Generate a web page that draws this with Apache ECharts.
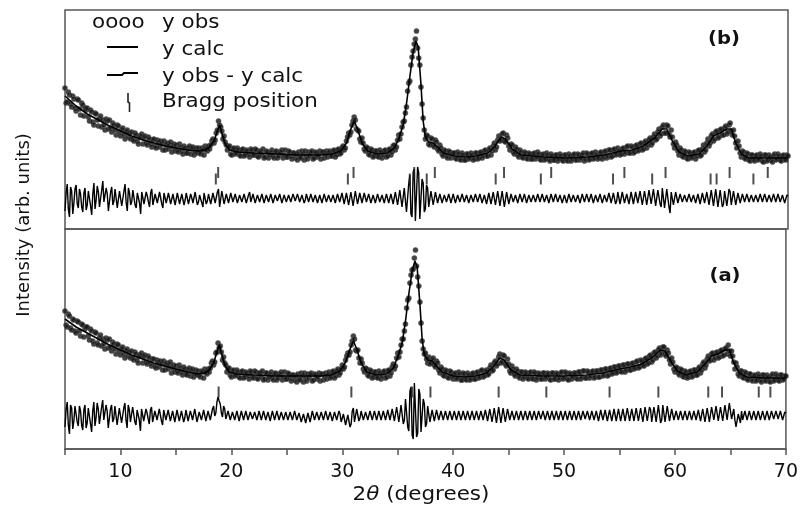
<!DOCTYPE html>
<html><head><meta charset="utf-8">
<script src="https://cdn.jsdelivr.net/npm/echarts@6/dist/echarts.min.js"></script>
<style>html,body{margin:0;padding:0;background:#fff}#chart{width:801px;height:508px}</style>
</head><body><div id="chart"></div>
<script>
// 2θ measurement grid (one value per 0.1°, 5°..70°)
const twoThetaStart = 5, twoThetaStep = 0.1;

// Panel (b): observed intensity (arb. units)
const obsB = [
141,126,127,137,134,125,122,133,130,121,
118,130,129,120,114,126,124,113,121,119,
121,112,108,119,117,107,104,116,115,109,
103,110,113,102,109,104,99,110,108,100,
109,101,97,106,104,99,94,104,103,97,
93,99,101,94,90,97,99,92,96,90,
97,90,88,96,94,88,85,93,92,95,
85,91,93,86,84,92,90,85,82,89,
90,83,81,89,87,82,88,85,79,88,
79,84,86,80,84,87,77,82,85,78,
84,79,77,85,82,78,75,83,81,76,
76,81,83,75,80,82,74,77,81,76,
81,77,75,81,79,74,83,80,78,83,
80,84,88,90,86,89,96,99,108,104,
102,98,90,93,87,84,79,82,83,75,
74,80,81,75,76,81,79,74,73,79,
80,73,74,79,78,75,72,80,79,74,
74,80,79,73,72,78,77,74,80,71,
72,78,77,71,74,76,79,73,71,77,
78,71,73,77,76,79,71,74,79,72,
72,78,77,73,70,76,76,71,75,69,
77,72,71,78,75,69,78,73,70,77,
73,76,78,70,71,77,76,72,74,78,
70,77,77,71,75,78,72,76,78,73,
73,78,79,72,74,79,80,75,76,81,
83,79,81,88,92,96,94,97,104,108,
112,109,100,99,98,90,87,91,86,80,
78,82,81,75,74,80,79,72,73,78,
78,73,72,79,77,71,74,78,79,72,
73,79,80,74,77,83,84,79,82,89,
94,90,95,102,107,108,116,122,138,146,
148,164,172,178,185,190,198,181,171,164,
142,125,111,99,90,94,93,85,84,91,
90,84,82,89,87,80,78,84,81,75,
73,79,78,73,71,78,77,71,75,76,
76,71,70,77,75,70,69,76,74,69,
69,75,75,70,71,76,74,69,70,76,
76,70,71,76,77,71,73,78,79,73,
73,79,81,74,78,83,86,79,82,89,
93,88,89,95,96,88,87,94,91,83,
79,85,84,77,75,82,80,74,72,79,
77,72,71,77,76,71,70,76,75,70,
70,75,76,70,72,77,75,70,69,74,
75,69,70,76,74,70,68,75,73,69,
69,74,74,68,70,75,73,69,68,74,
74,69,68,75,73,68,70,74,75,69,
69,75,74,69,71,74,76,68,70,76,
75,69,70,75,76,70,71,77,74,70,
71,76,77,70,72,77,78,71,73,79,
79,72,73,79,80,74,75,81,78,74,
75,80,81,75,77,82,83,76,76,83,
82,76,77,83,84,78,79,85,86,79,
80,86,88,81,84,89,91,84,86,92,
95,89,90,97,100,93,95,102,104,96,
96,104,103,95,92,99,92,85,81,87,
84,78,74,81,79,73,72,78,77,71,
70,77,76,71,72,76,77,70,73,78,
79,73,74,80,84,77,79,86,90,83,
86,93,95,88,90,97,98,91,92,99,
100,94,94,101,103,95,97,104,106,98,
94,99,93,86,81,88,83,76,72,78,
77,71,70,76,75,69,68,74,74,70,
68,73,74,69,70,75,73,68,67,74,
74,68,69,74,72,69,67,73,75,69,
70,75,73,69,68,73,74,70,69,74,
73
];
// Panel (b): difference curve (drawn with an offset below the pattern)
const diffB = [
18,36,45,20,12,42,38,15,26,40,
44,25,21,40,35,22,17,36,41,19,
24,38,40,23,14,35,46,20,29,43,
37,22,20,39,48,27,25,41,35,18,
19,37,42,24,28,40,39,21,22,38,
40,23,25,38,45,26,18,41,36,24,
27,39,41,24,21,36,37,26,15,37,
38,25,24,37,33,27,22,36,40,24,
23,35,36,26,28,37,39,25,21,36,
35,26,24,36,38,25,27,35,33,24,
22,36,37,25,26,35,34,24,29,36,
36,25,23,35,31,26,25,37,38,24,
27,34,35,26,22,36,37,25,28,35,
33,25,24,36,38,26,25,37,40,22,
21,38,36,25,27,35,34,26,25,36,
36,27,26,35,33,26,24,34,35,27,
27,35,34,26,25,34,37,27,28,35,
33,26,24,34,36,27,29,35,35,26,
26,34,35,27,28,35,33,26,24,34,
36,28,27,35,34,26,25,34,35,27,
28,34,36,27,26,35,33,28,27,35,
35,27,25,34,34,26,29,35,36,27,
26,35,33,27,27,34,36,26,25,34,
34,26,28,35,37,27,26,34,33,27,
27,34,35,26,24,35,36,27,27,36,
37,25,23,36,38,24,25,37,39,23,
22,38,37,25,27,36,35,26,24,36,
36,27,26,35,34,26,27,34,35,26,
25,35,34,27,28,34,36,26,26,35,
35,26,27,35,37,25,24,37,38,24,
23,39,40,22,21,41,42,17,18,45,
54,15,12,57,60,8,6,62,56,10,
10,50,46,17,20,44,41,22,24,38,
39,24,25,37,36,26,27,35,34,26,
26,34,35,27,28,35,33,26,25,35,
35,26,27,34,34,27,26,35,36,27,
27,34,33,26,25,34,35,27,28,35,
34,27,26,35,36,26,27,34,35,25,
24,36,37,25,26,37,38,24,23,38,
39,23,21,38,37,22,24,37,36,25,
26,35,35,27,28,34,34,26,25,35,
34,27,27,35,36,26,28,34,33,27,
27,34,35,27,26,35,34,27,29,35,
35,27,26,34,33,26,27,35,36,27,
28,35,34,27,25,34,35,26,27,34,
33,26,27,35,36,27,28,34,34,27,
26,34,35,26,28,35,33,27,27,35,
36,27,27,35,34,26,25,34,35,27,
28,35,35,26,26,34,34,27,27,36,
37,26,25,36,35,25,28,37,38,25,
25,37,36,26,27,35,35,25,26,37,
37,25,26,37,38,26,25,38,36,24,
24,38,39,24,26,39,37,25,23,40,
40,23,24,39,38,25,22,41,42,21,
23,40,38,22,16,37,36,24,26,37,
35,26,27,35,34,27,26,34,36,27,
27,35,34,27,28,34,35,26,26,35,
36,25,26,36,37,26,25,37,38,24,
22,39,41,23,24,40,38,22,21,39,
39,22,25,38,40,23,21,40,37,24,
24,38,37,24,25,36,35,26,26,35,
35,27,27,35,34,27,28,34,36,27,
27,34,35,27,26,35,34,27,28,35,
34,27,27,34,36,27,26,35,35,27,
28,35,34,27,27,34,35,26,27,34,
33
];

// Panel (a): observed intensity
const obsA = [
138,124,122,135,133,121,119,130,129,118,
116,128,127,118,113,125,124,112,120,122,
122,113,109,120,118,108,105,117,116,106,
104,111,114,103,110,105,100,111,109,101,
110,102,98,107,105,100,95,105,104,98,
94,100,102,95,91,98,100,93,97,91,
98,91,89,97,95,89,86,94,93,96,
86,92,94,87,85,93,91,86,83,90,
90,83,81,89,87,82,88,85,79,88,
79,84,86,80,84,87,76,81,84,77,
83,78,76,84,81,77,74,82,80,75,
74,79,81,73,78,80,72,75,79,74,
78,74,72,78,77,71,80,77,75,80,
77,81,86,88,84,87,96,97,106,101,
103,97,89,92,86,84,77,80,81,74,
72,78,79,73,74,79,77,72,71,77,
78,71,72,77,76,73,70,78,77,72,
71,78,77,71,70,76,76,72,78,69,
70,76,76,69,72,74,77,71,69,75,
76,69,71,75,74,77,69,72,77,70,
70,76,75,71,68,74,74,69,73,67,
75,70,69,76,73,67,76,71,68,75,
71,74,76,68,69,75,74,70,72,76,
68,75,75,69,73,76,70,74,77,71,
72,77,78,71,73,78,80,74,76,80,
84,80,82,89,93,96,94,97,104,108,
113,110,99,98,99,91,86,90,86,80,
77,81,80,74,73,79,78,71,72,77,
77,72,71,78,76,70,73,77,78,71,
72,78,79,73,76,82,85,80,83,91,
96,92,97,104,110,110,118,125,141,149,
151,166,174,179,180,191,199,183,172,163,
147,126,108,100,95,96,90,86,92,85,
86,89,91,84,82,88,86,79,76,82,
80,74,73,79,78,72,71,78,77,73,
70,75,76,70,71,77,75,69,69,76,
75,70,69,76,74,69,70,75,76,70,
70,76,77,71,72,78,79,72,73,77,
79,74,75,81,84,78,79,86,88,83,
85,92,95,86,87,94,93,85,83,90,
85,78,76,83,80,75,73,80,78,73,
71,77,77,70,72,77,76,71,70,76,
77,71,70,77,76,69,71,76,75,70,
70,76,76,70,72,76,75,70,69,76,
76,70,70,76,75,69,71,76,77,70,
71,77,76,70,69,76,75,70,72,76,
76,71,70,77,77,70,72,78,78,71,
71,78,77,71,73,77,78,71,72,78,
78,72,72,79,79,73,74,80,80,73,
74,80,81,75,76,82,82,76,77,83,
83,78,77,84,84,77,79,85,85,79,
79,85,86,80,81,87,88,81,82,89,
88,84,83,90,91,85,86,93,94,87,
89,96,97,91,93,99,101,94,96,102,
102,95,93,99,96,89,85,91,87,80,
77,82,81,76,74,80,79,73,72,78,
77,71,72,77,78,72,73,79,79,74,
74,80,82,76,79,85,87,81,84,90,
93,88,89,95,96,89,91,96,97,91,
92,98,99,93,94,100,101,95,104,98,
93,98,93,87,80,86,82,75,73,78,
78,72,71,77,76,70,69,75,75,70,
68,73,74,68,69,75,73,69,67,74,
74,69,68,74,72,68,67,73,75,68,
69,75,73,69,68,74,74,69,70,73,
73
];
// Panel (a): difference curve
const diffA = [
22,40,47,24,15,44,41,20,28,43,
45,27,23,43,38,24,19,39,44,21,
26,41,43,25,17,38,47,23,31,46,
40,25,23,42,49,29,27,44,38,21,
22,40,44,27,30,43,41,24,25,41,
42,26,27,41,46,29,21,44,39,27,
29,42,43,27,24,39,40,29,18,40,
41,28,27,40,36,30,25,39,42,27,
26,38,39,29,30,40,41,28,24,39,
38,29,27,39,40,28,29,38,36,27,
25,39,39,28,29,38,37,27,31,39,
39,28,26,38,34,29,28,40,40,27,
29,37,38,29,31,39,40,28,30,38,
38,29,30,40,43,33,36,47,52,48,
45,36,32,43,40,30,28,38,37,29,
28,37,38,29,30,38,36,28,27,38,
37,29,29,38,39,29,28,37,36,30,
30,37,38,29,27,38,37,29,31,38,
38,29,28,37,36,28,30,38,39,29,
29,38,37,29,31,37,38,29,28,37,
37,29,30,37,38,29,28,38,36,29,
28,36,35,27,26,35,34,26,27,36,
36,27,28,38,37,29,30,37,38,29,
29,37,38,29,30,38,36,29,28,37,
37,28,29,37,38,29,30,38,35,27,
27,35,34,24,23,34,33,22,25,38,
41,27,26,40,39,28,31,38,37,29,
29,37,38,29,30,38,37,29,28,38,
38,29,29,38,36,29,30,38,39,29,
28,39,38,29,30,40,41,28,27,42,
42,27,26,44,45,25,29,50,49,22,
18,58,62,14,10,66,65,12,16,60,
55,17,19,50,45,22,25,43,41,27,
28,39,40,28,29,39,38,29,31,38,
37,29,29,38,39,29,30,38,36,29,
30,38,38,29,28,38,37,29,31,38,
38,29,29,38,36,29,30,38,39,29,
29,38,37,29,31,38,38,29,28,39,
39,28,28,40,40,27,27,41,41,26,
26,42,43,26,25,41,40,27,27,40,
38,29,30,38,37,29,29,38,39,29,
30,38,37,29,31,38,38,29,28,38,
37,29,30,38,39,29,29,38,36,30,
31,38,38,29,29,38,37,29,30,38,
38,29,29,38,36,29,31,38,37,29,
29,38,37,29,30,38,39,29,30,38,
37,29,28,38,38,29,31,38,36,30,
30,38,38,29,28,38,37,29,31,38,
39,28,29,39,37,29,30,39,40,28,
27,39,38,28,30,40,40,28,28,40,
40,28,29,40,38,28,27,41,41,28,
28,40,39,28,29,41,41,28,28,41,
41,27,27,42,42,28,30,42,39,27,
26,42,43,27,28,44,46,26,29,44,
45,27,29,43,41,28,28,40,38,29,
30,38,37,29,29,38,38,29,31,38,
37,29,30,38,39,29,29,38,36,29,
30,39,39,28,28,40,40,27,27,41,
43,27,28,42,41,29,31,43,42,28,
28,42,41,28,30,44,44,29,38,46,
48,30,31,40,29,22,23,35,33,26,
38,29,29,38,37,29,30,38,36,29,
30,38,38,29,29,38,37,29,31,38,
37,29,30,38,38,29,29,38,36,30,
31,38,37,30,30,38,38,29,29,37,
36
];

// Calculated profiles (Rietveld fit), sampled at these 2θ knots
const calcX = [5,5.5,6,6.5,7,7.5,8,9,10,11,12,13,14,15,16,17,17.6,18,18.4,18.7,18.9,19.1,19.4,19.8,20.5,22,24,26,28,29,29.8,30.3,30.7,31,31.3,31.7,32.2,33,34,34.6,35,35.4,35.7,36,36.3,36.55,36.75,37,37.2,37.4,37.7,38.1,38.5,39,40,41,42,43,43.6,44.2,44.6,45.2,46,48,50,52,53.5,55,56,57,58,58.7,59.1,59.6,60.2,61,62,62.7,63.3,63.9,64.5,64.9,65.3,65.8,66.5,68,70];
const calcB = [133,128,123,119,115,112,109,103,98,93,89,86,83,81,79,78,79,82,88,98,104,96,85,79,77,76,75,74,74,75,78,86,100,108,100,86,78,75,76,81,90,104,125,152,177,188,182,145,108,92,87,86,82,76,73,72,73,76,82,92,90,80,74,72,71,72,74,78,79,83,91,100,100,88,77,73,75,83,93,96,100,100,86,75,71,71,71];
const calcA = [130,126,122,119,116,113,110,104,99,94,90,86,83,80,77,75,76,79,86,97,104,96,84,77,75,74,73,73,73,74,78,87,100,108,100,86,77,74,75,81,92,106,128,155,178,188,182,145,110,94,89,88,83,77,73,72,73,76,82,91,89,79,74,73,73,74,76,80,82,85,92,99,98,88,78,74,77,85,93,95,99,99,86,76,72,71,71];

// Bragg reflection positions (2θ)
const braggB1 = [18.77,30.94,36.4,38.25,44.47,48.71,55.29,58.99,64.75,68.18];
const braggB2 = [18.56,30.43,36.0,37.52,43.72,47.78,54.27,57.79,63.04,63.58,66.89];
const braggA  = [18.85,30.82,36.3,37.95,44.1,48.4,54.1,58.5,63.0,64.24,67.55,68.6];

const xMin = 5, xMax = 70, xStep = 5;
const legendLabels = ['y obs','y calc','y obs - y calc','Bragg position'];
const panelLabels = ['(b)','(a)'];

// ---------- build ----------
const onGrid = ys => ys.map((y,i) => [+(twoThetaStart + i*twoThetaStep).toFixed(1), y]);
const zipXY = (xs, ys) => xs.map((x,i) => [x, ys[i]]);
const ticksAt = (xs, level) => xs.map(x => [x, level]);

const FONT = 'DejaVu Sans';
const frame = '#555';
const ink = '#111';

const obsStyle = {color:'#141414', borderColor:'#5a5a5a', borderWidth:0.6};
function panelSeries(idx, obs, calc, diff, braggSets){
  const s = [
    {type:'scatter', xAxisIndex:idx, yAxisIndex:idx, data:onGrid(obs), symbol:'circle', symbolSize:5.2, itemStyle:obsStyle, z:2},
    {type:'line', xAxisIndex:idx, yAxisIndex:idx, data:zipXY(calcX, calc), showSymbol:false, lineStyle:{color:'#000', width:1.6}, z:3},
    {type:'line', xAxisIndex:idx, yAxisIndex:idx, data:onGrid(diff), showSymbol:false, lineStyle:{color:'#000', width:1.4}, z:2}
  ];
  braggSets.forEach(([xs, level]) => s.push({type:'scatter', xAxisIndex:idx, yAxisIndex:idx, data:ticksAt(xs, level), symbol:'rect', symbolSize:[2, 11], itemStyle:{color:'#222'}, z:4}));
  return s;
}

const chart = echarts.init(document.getElementById('chart'), null, {renderer:'canvas'});
chart.setOption({
  animation:false,
  backgroundColor:'#fff',
  grid:[
    {left:65, right:13, top:10, height:219, show:true, borderColor:frame, borderWidth:1.5},
    {left:65, right:13, top:229, height:220, show:true, borderColor:frame, borderWidth:1.5}
  ],
  xAxis:[
    {gridIndex:0, type:'value', min:xMin, max:xMax, interval:xStep, show:false},
    {gridIndex:1, type:'value', min:xMin, max:xMax, interval:xStep,
     axisLine:{show:true, lineStyle:{color:frame, width:1.5}},
     axisTick:{show:true, inside:false, length:6, lineStyle:{color:frame, width:1.5}},
     splitLine:{show:false},
     axisLabel:{show:true, margin:14, showMaxLabel:true, showMinLabel:true, color:ink, fontFamily:FONT, fontSize:19,
       formatter: v => (v % 10 === 0) ? String(v) : ''}}
  ],
  yAxis:[
    {gridIndex:0, type:'value', min:0, max:219, show:false},
    {gridIndex:1, type:'value', min:0, max:220, show:false}
  ],
  series:[
    ...panelSeries(0, obsB, calcB, diffB, [[braggB1, 56.5],[braggB2, 50]]),
    ...panelSeries(1, obsA, calcA, diffA, [[braggA, 57]])
  ],
  graphic:[
    // legend
    {type:'text', x:92, y:23, scaleX:1.13, style:{text:'oooo', font:'19px "DejaVu Sans"', fill:ink, textAlign:'left', textVerticalAlign:'middle'}},
    {type:'line', shape:{x1:107, y1:47, x2:138, y2:47}, style:{stroke:'#000', lineWidth:2}},
    {type:'polyline', shape:{points:[[107,75],[122,75],[124,73],[138,73]]}, style:{stroke:'#000', lineWidth:1.8, fill:null}},
    {type:'polyline', shape:{points:[[128,93],[128,102],[129.5,103],[129.5,112]]}, style:{stroke:'#222', lineWidth:1.6, fill:null}},
    {type:'text', x:162, y:23, scaleX:1.13, style:{text:legendLabels[0], font:'19px "DejaVu Sans"', fill:ink, textAlign:'left', textVerticalAlign:'middle'}},
    {type:'text', x:162, y:50, scaleX:1.13, style:{text:legendLabels[1], font:'19px "DejaVu Sans"', fill:ink, textAlign:'left', textVerticalAlign:'middle'}},
    {type:'text', x:162, y:77, scaleX:1.13, style:{text:legendLabels[2], font:'19px "DejaVu Sans"', fill:ink, textAlign:'left', textVerticalAlign:'middle'}},
    {type:'text', x:162, y:102, scaleX:1.13, style:{text:legendLabels[3], font:'19px "DejaVu Sans"', fill:ink, textAlign:'left', textVerticalAlign:'middle'}},
    // panel labels
    {type:'text', x:724, y:40, scaleX:1.15, style:{text:panelLabels[0], font:'bold 17px "DejaVu Sans"', fill:ink, textAlign:'center', textVerticalAlign:'middle'}},
    {type:'text', x:725, y:277, scaleX:1.15, style:{text:panelLabels[1], font:'bold 17px "DejaVu Sans"', fill:ink, textAlign:'center', textVerticalAlign:'middle'}},
    // axis titles
    {type:'text', x:421, y:495, scaleX:1.13, style:{text:'{n|2}{t|θ}{n| (degrees)}', textAlign:'center', textVerticalAlign:'middle',
      rich:{n:{fontFamily:FONT, fontSize:19, fill:ink, color:ink}, t:{fontFamily:FONT, fontSize:19, fontStyle:'italic', fill:ink, color:ink}}}},
    {type:'text', x:24, y:225, rotation:Math.PI/2, style:{text:'Intensity (arb. units)', font:'18px "DejaVu Sans"', fill:ink, textAlign:'center', textVerticalAlign:'middle'}}
  ]
});
</script></body></html>
